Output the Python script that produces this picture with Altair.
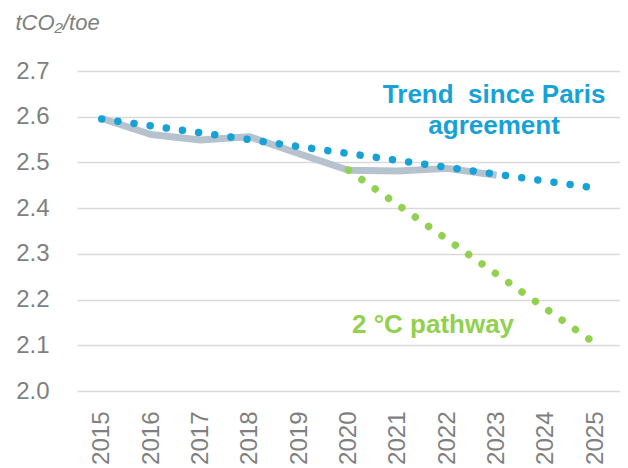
import altair as alt
import pandas as pd

# Actual emission intensity (grey)
actual_years = [2015, 2016, 2017, 2018, 2019, 2020, 2021, 2022, 2023]
actual_vals = [2.596, 2.561, 2.549, 2.556, 2.519, 2.483, 2.481, 2.487, 2.472]

# Trend since Paris agreement (blue dotted)
trend_years = [2015, 2025]
trend_vals = [2.595, 2.444]

# 2 °C pathway (green dotted)
path_years = [2020, 2025]
path_vals = [2.483, 2.104]

year_ticks = list(range(2015, 2026))
y_ticks = [2.0, 2.1, 2.2, 2.3, 2.4, 2.5, 2.6, 2.7]

FONT = "Liberation Sans"
GREY_TXT = "#7f7f7f"
BLUE = "#17a2d7"
GREEN = "#92d050"
LINE_GREY = "#b6c2ce"

df_actual = pd.DataFrame({"year": actual_years, "v": actual_vals})
df_trend = pd.DataFrame({"year": trend_years, "v": trend_vals})
df_path = pd.DataFrame({"year": path_years, "v": path_vals})

x_scale = alt.Scale(domain=[2014.5, 2025.5], nice=False, zero=False)
y_scale = alt.Scale(domain=[2.0, 2.7], nice=False, zero=False)

x_enc = alt.X(
    "year:Q",
    scale=x_scale,
    axis=alt.Axis(
        values=year_ticks, format="d", labelAngle=-90, grid=False, ticks=False,
        domain=False, labelFontSize=24, labelColor=GREY_TXT, labelFont=FONT,
        labelPadding=20, title=None, labelFlush=False, labelOverlap=False,
    ),
)
y_enc = alt.Y(
    "v:Q",
    scale=y_scale,
    axis=alt.Axis(
        values=y_ticks, format=".1f", grid=True, gridColor="#d9d9d9", gridWidth=1.5,
        ticks=False, domain=False, labelFontSize=24, labelColor=GREY_TXT,
        labelFont=FONT, labelPadding=28,
        title="tCO₂/toe", titleAngle=0, titleAlign="left", titleBaseline="alphabetic",
        titleX=-62, titleY=-42, titleFontSize=22, titleFontStyle="italic",
        titleFontWeight="normal", titleColor=GREY_TXT, titleFont=FONT,
    ),
)

grey = alt.Chart(df_actual).mark_line(
    color=LINE_GREY, strokeWidth=7, strokeJoin="round", strokeCap="butt"
).encode(x=x_enc, y=y_enc)

trend = alt.Chart(df_trend).mark_line(
    color=BLUE, strokeWidth=7.5, strokeCap="round", strokeDash=[0.01, 16.3]
).encode(x="year:Q", y="v:Q")

path = alt.Chart(df_path).mark_line(
    color=GREEN, strokeWidth=7.5, strokeCap="round", strokeDash=[0.01, 16.3]
).encode(x="year:Q", y="v:Q")

lab_trend = alt.Chart(pd.DataFrame({"year": [2022.95], "v": [2.629]})).mark_text(
    text=["Trend\u00a0 since Paris", "agreement"], font=FONT, fontSize=26, fontWeight="bold",
    color=BLUE, align="center", baseline="alphabetic", lineHeight=31,
).encode(x="year:Q", y="v:Q")

lab_path = alt.Chart(pd.DataFrame({"year": [2020.07], "v": [2.127]})).mark_text(
    text="2 °C pathway", font=FONT, fontSize=26, fontWeight="bold",
    color=GREEN, align="left", baseline="alphabetic",
).encode(x="year:Q", y="v:Q")

chart = alt.layer(grey, trend, path, lab_trend, lab_path).properties(
    width=543, height=320,
    padding={"left": 7, "top": 3, "right": 0, "bottom": 0},
).configure_view(stroke=None)

chart.save("out.html", embed_options={"renderer": "svg", "actions": False})
